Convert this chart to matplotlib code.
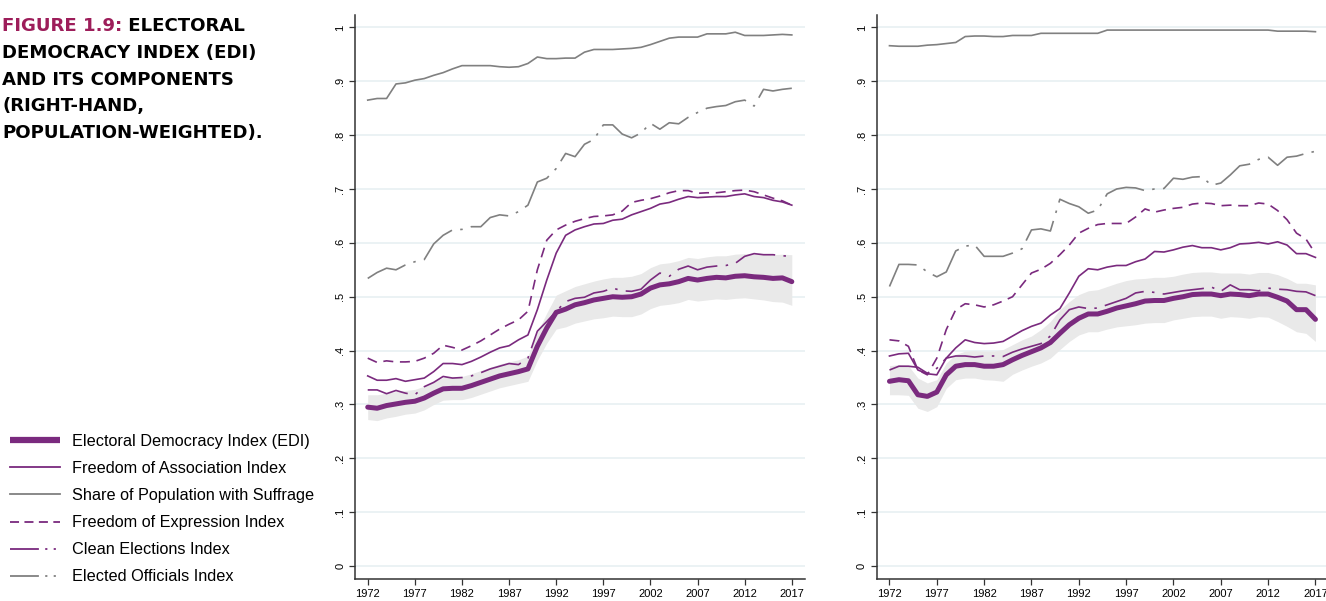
import numpy as np
import matplotlib
matplotlib.use("Agg")
import matplotlib.pyplot as plt
from matplotlib.lines import Line2D

years = list(range(1972, 2018))
tick_years = list(range(1972, 2018, 5))
ytick_vals = [0, .1, .2, .3, .4, .5, .6, .7, .8, .9, 1]
ytick_labels = ["0", ".1", ".2", ".3", ".4", ".5", ".6", ".7", ".8", ".9", "1"]

# left panel
edi_l = [0.295, 0.293, 0.298, 0.301, 0.304, 0.306, 0.312, 0.321, 0.329, 0.330, 0.330, 0.335, 0.341, 0.347, 0.353, 0.357,
         0.361, 0.366, 0.408, 0.442, 0.471, 0.477, 0.485, 0.489, 0.494, 0.497, 0.500, 0.499, 0.500, 0.505, 0.516, 0.522,
         0.524, 0.528, 0.534, 0.531, 0.534, 0.536, 0.535, 0.538, 0.539, 0.537, 0.536, 0.534, 0.535, 0.528]
edi_hi_l = [0.318, 0.318, 0.321, 0.324, 0.326, 0.328, 0.334, 0.342, 0.350, 0.352, 0.352, 0.357, 0.363, 0.369, 0.375, 0.379,
            0.383, 0.390, 0.434, 0.470, 0.503, 0.511, 0.519, 0.524, 0.529, 0.533, 0.536, 0.536, 0.538, 0.543, 0.554, 0.561,
            0.563, 0.567, 0.573, 0.571, 0.574, 0.576, 0.576, 0.579, 0.580, 0.579, 0.579, 0.578, 0.579, 0.578]
edi_lo_l = [0.272, 0.270, 0.275, 0.278, 0.282, 0.284, 0.290, 0.300, 0.308, 0.309, 0.309, 0.313, 0.319, 0.325, 0.331, 0.335,
            0.339, 0.343, 0.382, 0.414, 0.440, 0.444, 0.451, 0.455, 0.459, 0.461, 0.464, 0.463, 0.463, 0.468, 0.478, 0.484,
            0.486, 0.489, 0.495, 0.492, 0.494, 0.496, 0.495, 0.497, 0.498, 0.496, 0.494, 0.491, 0.490, 0.484]
assoc_l = [0.353, 0.345, 0.345, 0.348, 0.343, 0.346, 0.349, 0.361, 0.376, 0.376, 0.374, 0.380, 0.388, 0.397, 0.405, 0.409,
           0.420, 0.429, 0.476, 0.531, 0.581, 0.614, 0.624, 0.630, 0.635, 0.636, 0.642, 0.644, 0.652, 0.658, 0.664, 0.672,
           0.675, 0.681, 0.686, 0.684, 0.685, 0.686, 0.686, 0.689, 0.691, 0.686, 0.684, 0.679, 0.676, 0.670]
suffrage_l = [0.865, 0.868, 0.868, 0.895, 0.897, 0.902, 0.905, 0.911, 0.916, 0.923, 0.929, 0.929, 0.929, 0.929, 0.927, 0.926,
              0.927, 0.933, 0.945, 0.942, 0.942, 0.943, 0.943, 0.954, 0.959, 0.959, 0.959, 0.960, 0.961, 0.963, 0.968, 0.974,
              0.980, 0.982, 0.982, 0.982, 0.988, 0.988, 0.988, 0.991, 0.985, 0.985, 0.985, 0.986, 0.987, 0.986]
expr_l = [0.386, 0.378, 0.381, 0.379, 0.379, 0.380, 0.386, 0.395, 0.410, 0.406, 0.401, 0.409, 0.418, 0.429, 0.440, 0.449,
          0.457, 0.473, 0.550, 0.605, 0.624, 0.633, 0.640, 0.645, 0.649, 0.650, 0.652, 0.659, 0.675, 0.679, 0.682, 0.687,
          0.693, 0.697, 0.697, 0.692, 0.693, 0.693, 0.695, 0.697, 0.698, 0.695, 0.689, 0.683, 0.678, 0.670]
clean_l = [0.327, 0.327, 0.320, 0.326, 0.321, 0.318, 0.333, 0.341, 0.352, 0.349, 0.350, 0.353, 0.359, 0.366, 0.371, 0.376,
           0.374, 0.386, 0.436, 0.454, 0.473, 0.491, 0.497, 0.499, 0.507, 0.510, 0.516, 0.511, 0.510, 0.514, 0.531, 0.544,
           0.538, 0.551, 0.557, 0.550, 0.555, 0.557, 0.558, 0.562, 0.575, 0.580, 0.578, 0.578, 0.576, 0.575]
officials_l = [0.534, 0.545, 0.553, 0.550, 0.559, 0.565, 0.569, 0.598, 0.614, 0.624, 0.625, 0.630, 0.630, 0.647, 0.652, 0.650,
               0.658, 0.670, 0.713, 0.720, 0.738, 0.766, 0.760, 0.783, 0.792, 0.819, 0.819, 0.802, 0.795, 0.804, 0.822, 0.811,
               0.823, 0.821, 0.833, 0.842, 0.850, 0.853, 0.855, 0.862, 0.865, 0.854, 0.885, 0.882, 0.885, 0.887]

# right panel (population-weighted)
edi_r = [0.343, 0.346, 0.344, 0.318, 0.315, 0.323, 0.355, 0.371, 0.374, 0.374, 0.371, 0.371, 0.374, 0.383, 0.391, 0.398,
         0.405, 0.415, 0.432, 0.448, 0.460, 0.468, 0.468, 0.473, 0.479, 0.483, 0.487, 0.492, 0.493, 0.493, 0.497, 0.500,
         0.504, 0.505, 0.505, 0.502, 0.505, 0.504, 0.502, 0.505, 0.505, 0.499, 0.492, 0.476, 0.476, 0.458]
edi_hi_r = [0.372, 0.374, 0.372, 0.349, 0.340, 0.346, 0.377, 0.393, 0.399, 0.400, 0.399, 0.399, 0.402, 0.411, 0.420, 0.427,
            0.439, 0.454, 0.476, 0.491, 0.504, 0.511, 0.513, 0.519, 0.525, 0.530, 0.533, 0.534, 0.536, 0.536, 0.538, 0.542,
            0.545, 0.546, 0.546, 0.544, 0.544, 0.544, 0.542, 0.545, 0.545, 0.541, 0.534, 0.525, 0.525, 0.522]
edi_lo_r = [0.318, 0.318, 0.317, 0.293, 0.287, 0.296, 0.330, 0.346, 0.349, 0.349, 0.346, 0.345, 0.343, 0.356, 0.364, 0.371,
            0.377, 0.386, 0.402, 0.417, 0.429, 0.435, 0.435, 0.440, 0.444, 0.446, 0.448, 0.451, 0.452, 0.452, 0.457, 0.460,
            0.463, 0.464, 0.464, 0.460, 0.463, 0.462, 0.460, 0.463, 0.462, 0.454, 0.445, 0.435, 0.432, 0.417]
assoc_r = [0.390, 0.394, 0.395, 0.364, 0.357, 0.355, 0.386, 0.405, 0.420, 0.415, 0.413, 0.414, 0.417, 0.427, 0.437, 0.445,
           0.451, 0.466, 0.478, 0.507, 0.538, 0.552, 0.550, 0.555, 0.558, 0.558, 0.565, 0.570, 0.584, 0.583, 0.587, 0.592,
           0.595, 0.591, 0.591, 0.587, 0.591, 0.598, 0.599, 0.601, 0.598, 0.602, 0.596, 0.580, 0.580, 0.573]
suffrage_r = [0.966, 0.965, 0.965, 0.965, 0.967, 0.968, 0.970, 0.972, 0.983, 0.984, 0.984, 0.983, 0.983, 0.985, 0.985, 0.985,
              0.989, 0.989, 0.989, 0.989, 0.989, 0.989, 0.989, 0.995, 0.995, 0.995, 0.995, 0.995, 0.995, 0.995, 0.995, 0.995,
              0.995, 0.995, 0.995, 0.995, 0.995, 0.995, 0.995, 0.995, 0.995, 0.993, 0.993, 0.993, 0.993, 0.992]
expr_r = [0.420, 0.418, 0.408, 0.364, 0.355, 0.386, 0.439, 0.476, 0.487, 0.485, 0.481, 0.485, 0.492, 0.500, 0.522, 0.544,
          0.551, 0.562, 0.578, 0.596, 0.618, 0.627, 0.634, 0.636, 0.636, 0.636, 0.648, 0.663, 0.657, 0.661, 0.664, 0.666,
          0.672, 0.674, 0.673, 0.669, 0.670, 0.669, 0.669, 0.674, 0.672, 0.660, 0.643, 0.618, 0.607, 0.580]
clean_r = [0.364, 0.371, 0.371, 0.369, 0.358, 0.367, 0.386, 0.390, 0.390, 0.388, 0.390, 0.390, 0.389, 0.397, 0.403, 0.408,
           0.413, 0.427, 0.457, 0.476, 0.481, 0.478, 0.479, 0.485, 0.491, 0.497, 0.507, 0.510, 0.508, 0.505, 0.508, 0.511,
           0.513, 0.515, 0.518, 0.510, 0.522, 0.513, 0.513, 0.511, 0.516, 0.514, 0.513, 0.510, 0.509, 0.502]
officials_r = [0.519, 0.560, 0.560, 0.559, 0.546, 0.537, 0.546, 0.585, 0.594, 0.596, 0.575, 0.575, 0.575, 0.581, 0.589, 0.624,
               0.626, 0.622, 0.681, 0.673, 0.667, 0.655, 0.661, 0.691, 0.700, 0.703, 0.702, 0.697, 0.700, 0.701, 0.720, 0.718,
               0.722, 0.723, 0.707, 0.711, 0.726, 0.743, 0.746, 0.755, 0.759, 0.744, 0.759, 0.761, 0.766, 0.770]

labels = ["Electoral Democracy Index (EDI)", "Freedom of Association Index", "Share of Population with Suffrage",
          "Freedom of Expression Index", "Clean Elections Index", "Elected Officials Index"]

purple = "#7a2a7e"
gray = "#808080"
band = "#e9e9e9"
grid = "#e8f0f2"

plt.rcParams['font.family'] = ['Liberation Sans', 'DejaVu Sans']

fig = plt.figure(figsize=(13.26, 6.01), dpi=100)
ax_l = fig.add_axes([355 / 1326, 22 / 601, 450 / 1326, 564 / 601])
ax_r = fig.add_axes([876.7 / 1326, 22 / 601, 452 / 1326, 564 / 601])

dashdot = [25, 5, 1.5, 5]


def draw_panel(ax, edi, lo, hi, assoc, suff, expr, clean, offic):
    ax.fill_between(years, lo, hi, color=band, lw=0, zorder=1)
    ax.plot(years, offic, color=gray, lw=1.2, dashes=dashdot, zorder=2)
    ax.plot(years, clean, color=purple, lw=1.2, dashes=dashdot, zorder=2)
    ax.plot(years, expr, color=purple, lw=1.2, dashes=[6, 4], zorder=2)
    ax.plot(years, suff, color=gray, lw=1.2, zorder=2)
    ax.plot(years, assoc, color=purple, lw=1.2, zorder=2)
    ax.plot(years, edi, color=purple, lw=3.6, solid_capstyle='round', zorder=3)

    ax.set_xlim(1970.65, 2018.4)
    ax.set_ylim(-0.024, 1.023)
    ax.set_xticks(tick_years)
    ax.set_yticks(ytick_vals)
    ax.set_yticklabels(ytick_labels, rotation=90, va='center')
    ax.tick_params(axis='both', labelsize=8, length=4, width=0.9, color='#333333', pad=3)
    ax.yaxis.grid(True, color=grid, lw=1.2, zorder=0)
    ax.set_axisbelow(True)
    for s in ['top', 'right']:
        ax.spines[s].set_visible(False)
    for s in ['left', 'bottom']:
        ax.spines[s].set_linewidth(1.1)
        ax.spines[s].set_color('#333333')


draw_panel(ax_l, edi_l, edi_lo_l, edi_hi_l, assoc_l, suffrage_l, expr_l, clean_l, officials_l)
draw_panel(ax_r, edi_r, edi_lo_r, edi_hi_r, assoc_r, suffrage_r, expr_r, clean_r, officials_r)

# legend
leg_dd = [16, 3.5, 1.2, 3.5, 1.2, 3.5]
handles = [
    Line2D([], [], color=purple, lw=4.5, solid_capstyle='butt'),
    Line2D([], [], color=purple, lw=1.3),
    Line2D([], [], color=gray, lw=1.3),
    Line2D([], [], color=purple, lw=1.3, dashes=[5, 3]),
    Line2D([], [], color=purple, lw=1.3, dashes=leg_dd),
    Line2D([], [], color=gray, lw=1.3, dashes=leg_dd),
]
fig.legend(handles, labels, loc='upper left', bbox_to_anchor=(5 / 1326, 1 - 429 / 601), frameon=False,
           fontsize=11.7, handlelength=3.08, handletextpad=0.74, labelspacing=0.745, borderaxespad=0,
           borderpad=0.3)

# title
title_font = dict(family=['DejaVu Sans'], weight='bold', fontsize=13.1)
title_lines = ["DEMOCRACY INDEX (EDI)", "AND ITS COMPONENTS", "(RIGHT-HAND,", "POPULATION-WEIGHTED)."]
t1 = fig.text(2 / 1326, 1 - 31 / 601, "FIGURE 1.9:", color="#9d1d5a", va='baseline', ha='left', **title_font)
fig.canvas.draw()
bb = t1.get_window_extent()
fig.text(bb.x1 / 1326, 1 - 31 / 601, " ELECTORAL", color='black', va='baseline', ha='left', **title_font)
for i, line in enumerate(title_lines):
    fig.text(2 / 1326, 1 - (31 + 26.8 * (i + 1)) / 601, line, color='black', va='baseline', ha='left', **title_font)

fig.savefig("out.png", dpi=100)
